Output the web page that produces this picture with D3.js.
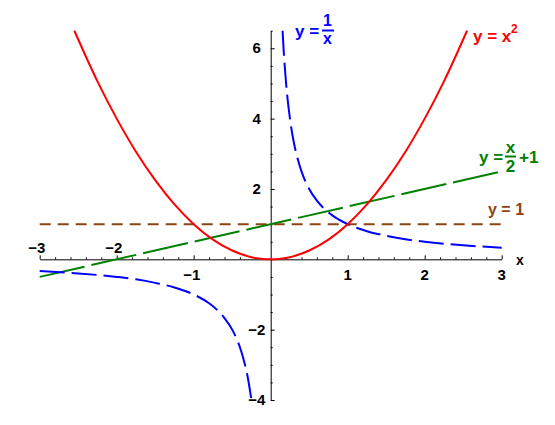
<!DOCTYPE html>
<html>
<head>
<meta charset="utf-8">
<script src="https://cdn.jsdelivr.net/npm/d3@7"></script>
<style>
  body { margin: 0; background: #fff; }
  text { font-family: "Liberation Sans", Arial, sans-serif; font-weight: bold; }
</style>
</head>
<body>
<svg id="chart"></svg>
<script>
// values
const parabola = [[-2.55,6.5],[-2.25,5.06],[-2,4],[-1.75,3.06],[-1.5,2.25],[-1.25,1.56],[-1,1],[-0.75,0.56],[-0.5,0.25],[-0.25,0.06],[-0.1,0.01],[0,0],[0.1,0.01],[0.25,0.06],[0.5,0.25],[0.75,0.56],[1,1],[1.25,1.56],[1.5,2.25],[1.75,3.06],[2,4],[2.25,5.06],[2.55,6.5]]
const hyperPos = [[0.154,6.5],[0.17,5.88],[0.2,5],[0.25,4],[0.3,3.33],[0.35,2.86],[0.4,2.5],[0.5,2],[0.6,1.67],[0.7,1.43],[0.8,1.25],[1,1],[1.25,0.8],[1.5,0.67],[1.75,0.57],[2,0.5],[2.5,0.4],[3,0.33]]
const hyperNeg = [[-3,-0.33],[-2.5,-0.4],[-2,-0.5],[-1.75,-0.57],[-1.5,-0.67],[-1.25,-0.8],[-1,-1],[-0.8,-1.25],[-0.7,-1.43],[-0.6,-1.67],[-0.5,-2],[-0.4,-2.5],[-0.35,-2.86],[-0.3,-3.33],[-0.25,-4]]
const lineHalf = [[-3,-0.5],[3,2.5]]
const lineOne = [[-3,1],[3,1]]

const xTicksAbove = [-3,-2]
const xTicksBelow = [-1,1,2,3]
const yTicks = [-4,-2,2,4,6]

const width = 555
const height = 425

const svg = d3.select("#chart")
  .attr("width", width)
  .attr("height", height)

const xScale = d3.scaleLinear()
  .domain([-3, 3])
  .range([39.7, 501.7])

const yScale = d3.scaleLinear()
  .domain([-4, 6.5])
  .range([400, 30.7])

const x0 = xScale(0)
const y0 = yScale(0)

// x axis (ticks pointing up, no labels from d3)
const xMajor = d3.range(-3, 3.01, 1).filter(d => d !== 0)
const xMinor = d3.range(-3, 3.01, 0.2).filter(d => Math.abs(d - Math.round(d)) > 0.01)

svg.append("g")
  .attr("transform", `translate(0, ${y0})`)
  .call(d3.axisBottom(xScale).tickValues(xMinor).tickSizeInner(-2).tickSizeOuter(0).tickFormat(""))
  .call(g => g.select(".domain").remove())

svg.append("g")
  .attr("transform", `translate(0, ${y0})`)
  .call(d3.axisBottom(xScale).tickValues(xMajor).tickSizeInner(-4).tickSizeOuter(0).tickFormat(""))

// y axis (ticks pointing right)
const yMajor = d3.range(-4, 6.01, 2).filter(d => d !== 0)
const yMinor = d3.range(-4, 6.51, 0.5).filter(d => d % 2 !== 0)

svg.append("g")
  .attr("transform", `translate(${x0}, 0)`)
  .call(d3.axisLeft(yScale).tickValues(yMinor).tickSizeInner(-2).tickSizeOuter(0).tickFormat(""))
  .call(g => g.select(".domain").remove())

svg.append("g")
  .attr("transform", `translate(${x0}, 0)`)
  .call(d3.axisLeft(yScale).tickValues(yMajor).tickSizeInner(-4).tickSizeOuter(0).tickFormat(""))

svg.selectAll(".domain, .tick line").attr("stroke", "#000").attr("stroke-width", 1)

const fmt = d => d < 0 ? "\u2212" + Math.abs(d) : String(d)

svg.selectAll(".xlabA")
  .data(xTicksAbove)
  .enter().append("text")
  .attr("x", d => xScale(d) - 3)
  .attr("y", y0 - 6)
  .attr("text-anchor", "middle")
  .attr("font-size", 15)
  .text(fmt)

svg.selectAll(".xlabB")
  .data(xTicksBelow)
  .enter().append("text")
  .attr("x", d => xScale(d) - (d < 0 ? 2 : 0))
  .attr("y", y0 + 21)
  .attr("text-anchor", "middle")
  .attr("font-size", 15)
  .text(fmt)

svg.selectAll(".ylab")
  .data(yTicks)
  .enter().append("text")
  .attr("x", x0 - 14)
  .attr("y", d => yScale(d) + 5)
  .attr("text-anchor", "middle")
  .attr("font-size", 15)
  .text(fmt)

svg.append("text")
  .attr("x", 516)
  .attr("y", y0 + 6)
  .attr("font-size", 14)
  .text("x")

let line = d3.line()
  .x(d => xScale(d[0]))
  .y(d => yScale(d[1]))
  .curve(d3.curveMonotoneX)

svg.append("path")
  .datum(lineOne)
  .attr("fill", "none")
  .attr("stroke", "#8b4513")
  .attr("stroke-width", 2)
  .attr("stroke-dasharray", "11,7")
  .attr("d", line)

svg.append("path")
  .datum(lineHalf)
  .attr("fill", "none")
  .attr("stroke", "#008000")
  .attr("stroke-width", 2)
  .attr("stroke-dasharray", "46,7")
  .attr("d", line)

svg.selectAll(".hyper")
  .data([hyperPos, hyperNeg])
  .enter().append("path")
  .attr("fill", "none")
  .attr("stroke", "#0000ff")
  .attr("stroke-width", 2)
  .attr("stroke-dasharray", "25,7")
  .attr("d", line)

svg.append("path")
  .datum(parabola)
  .attr("fill", "none")
  .attr("stroke", "#ff0000")
  .attr("stroke-width", 2)
  .attr("d", line)

// curve labels
const lab = (x, y, s, col, size, anchor) => svg.append("text")
  .attr("x", x).attr("y", y)
  .attr("fill", col)
  .attr("font-size", size || 17)
  .attr("text-anchor", anchor || "start")
  .text(s)

// y = 1/x
lab(295, 37, "y =", "#0000ff")
lab(327.5, 26, "1", "#0000ff", 16, "middle")
svg.append("line").attr("x1", 322).attr("x2", 334).attr("y1", 30.5).attr("y2", 30.5)
  .attr("stroke", "#0000ff").attr("stroke-width", 2)
lab(327.5, 44, "x", "#0000ff", 16, "middle")

// y = x^2
lab(473, 42, "y = x", "#ff0000")
lab(511, 33, "2", "#ff0000", 12)

// y = x/2 + 1
lab(479, 163, "y =", "#008000")
lab(510.5, 153, "x", "#008000", 17, "middle")
svg.append("line").attr("x1", 505).attr("x2", 516).attr("y1", 156.5).attr("y2", 156.5)
  .attr("stroke", "#008000").attr("stroke-width", 2)
lab(510.5, 172, "2", "#008000", 17, "middle")
lab(519, 163, "+1", "#008000")

// y = 1
lab(488, 215, "y = 1", "#8b4513", 16)
</script>
</body>
</html>
